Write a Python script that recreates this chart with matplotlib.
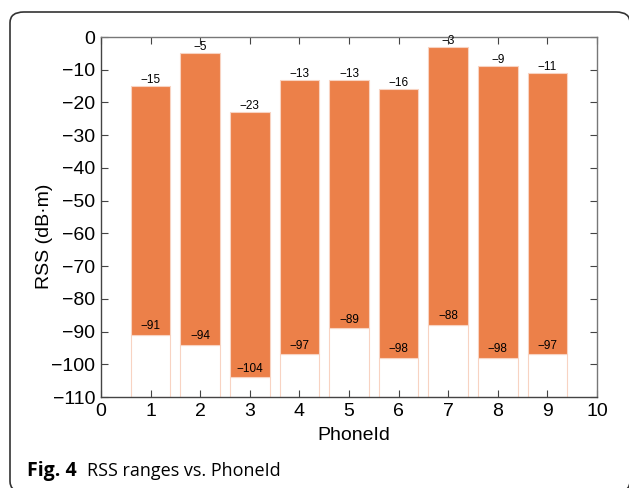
import matplotlib
matplotlib.use("Agg")
import matplotlib.pyplot as plt
from matplotlib.patches import FancyBboxPatch

# RSS range per phone
phone_ids = [1, 2, 3, 4, 5, 6, 7, 8, 9]
rss_max = [-15, -5, -23, -13, -13, -16, -3, -9, -11]
rss_min = [-91, -94, -104, -97, -89, -98, -88, -98, -97]
floor_val = -110

orange = '#ec8049'
edge = '#f8d3c2'

plt.rcParams['font.family'] = ['Liberation Sans', 'DejaVu Sans']

fig = plt.figure(figsize=(6.29, 4.88), dpi=100)

# rounded frame around the figure (bottom edge runs off the image)
frame = FancyBboxPatch((10/629, -4/488), 620/629, 480/488,
                       boxstyle="round,pad=0,rounding_size=0.022",
                       transform=fig.transFigure, facecolor='none',
                       edgecolor='#333333', linewidth=1.2, clip_on=False)
fig.patches.append(frame)

ax = fig.add_axes([101/629, 1 - 397/488, 496/629, 360/488])

heights_low = [m - floor_val for m in rss_min]
heights_up = [mx - mn for mx, mn in zip(rss_max, rss_min)]
ax.bar(phone_ids, heights_low, bottom=floor_val, width=0.8,
       color='white', edgecolor=edge, linewidth=0.8)
ax.bar(phone_ids, heights_up, bottom=rss_min, width=0.8,
       color=orange, edgecolor=edge, linewidth=0.8)

for x, mx, mn in zip(phone_ids, rss_max, rss_min):
    ax.text(x, mx, str(mx).replace('-', '\u2212'), ha='center', va='bottom', fontsize=8.5)
    ax.text(x, mn + 0.8, str(mn).replace('-', '\u2212'), ha='center', va='bottom', fontsize=8.5)

ax.set_xlim(0, 10)
ax.set_ylim(-110, 0)
ax.set_xticks(range(0, 11))
ax.set_yticks(range(-110, 1, 10))
ax.tick_params(direction='in', top=True, right=True, labelsize=14, length=5,
               color='#444444', pad=4)
for s in ax.spines.values():
    s.set_color('#444444')
    s.set_linewidth(1.0)
ax.spines['right'].set_color('#777777')
ax.spines['top'].set_color('#777777')

ax.set_xlabel('PhoneId', fontsize=14)
ax.set_ylabel('RSS (dB\u00b7m)', fontsize=14)
ax.xaxis.set_label_coords(0.509, -0.083)
ax.yaxis.set_label_coords(-0.097, 0.447)

fig.text(27/629, 1 - 476/488, 'Fig. 4', fontsize=14, fontweight='bold',
         family='Open Sans', va='baseline', ha='left')
fig.text(87/629, 1 - 476/488, 'RSS ranges vs. PhoneId', fontsize=13,
         family='Open Sans', va='baseline', ha='left')

fig.savefig('out.png', dpi=100)
